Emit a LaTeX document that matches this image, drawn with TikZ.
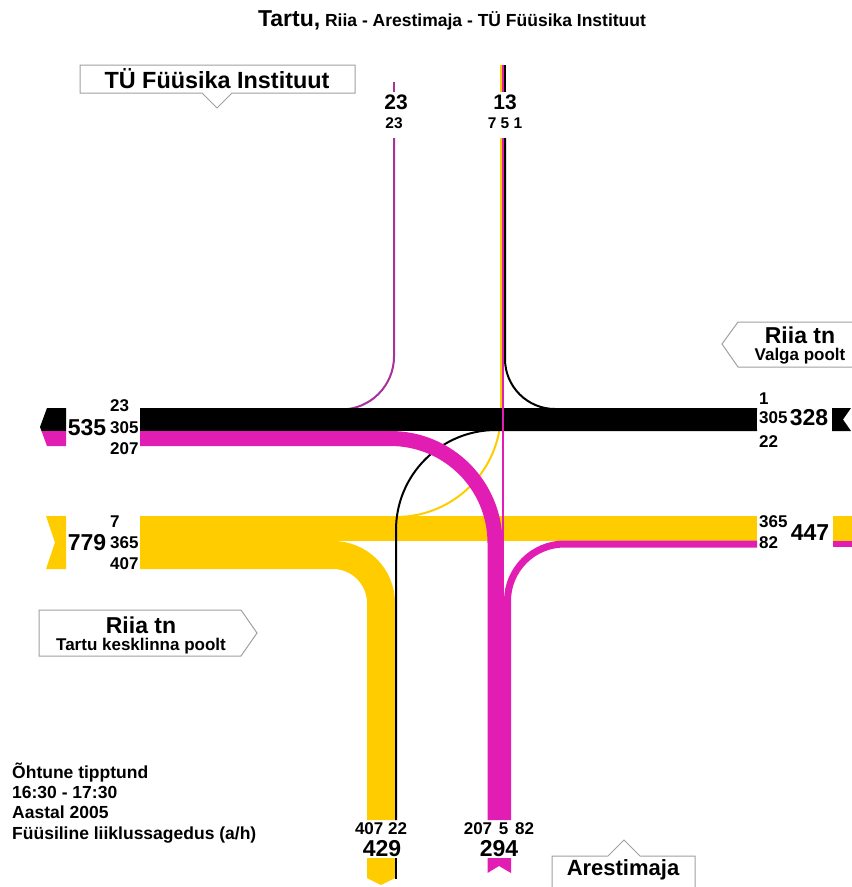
\documentclass[tikz,border=0pt]{standalone}
\usepackage{fontspec}
\setmainfont{Liberation Sans}
\definecolor{flowyellow}{HTML}{FFCC00}
\definecolor{flowmagenta}{HTML}{E21DB3}
\definecolor{flowpurple}{HTML}{A5339A}
\definecolor{boxgray}{HTML}{A0A0A0}
\tikzset{
  numsmall/.style={font=\bfseries\fontsize{17}{19}\selectfont,inner sep=0pt},
  numbig/.style={font=\bfseries\fontsize{23}{25}\selectfont,inner sep=0pt},
  numtop/.style={font=\bfseries\fontsize{21}{23}\selectfont,inner sep=0pt},
  numtopsmall/.style={font=\bfseries\fontsize{15.5}{17}\selectfont,inner sep=0pt},
  infotext/.style={font=\bfseries\fontsize{17.5}{20}\selectfont,inner sep=0pt,anchor=base west},
  callout/.style={draw=boxgray,fill=white,line width=1pt},
  stream/.style={line width=#1,line cap=butt}
}
\begin{document}
\begin{tikzpicture}[x=1pt,y=-1pt]
  \useasboundingbox (0,0) rectangle (852,887);

  \coordinate (nPurpleTop) at (394,82);
  \coordinate (nPurpleLbl) at (394,92);
  \coordinate (nPurple) at (394,138);
  \coordinate (wPurple) at (140,409.5);
  \coordinate (nYellowTop) at (501,65);
  \coordinate (nYellowLbl) at (501,92);
  \coordinate (nYellow) at (501,138);
  \coordinate (wYellowT) at (140,517);
  \coordinate (nMagentaTop) at (503,65);
  \coordinate (nMagentaLbl) at (503,92);
  \coordinate (nMagenta) at (503,138);
  \coordinate (sMagentaS) at (503,820);
  \coordinate (nBlackTop) at (505,65);
  \coordinate (nBlackLbl) at (505,92);
  \coordinate (nBlack) at (505,138);
  \coordinate (eBlackL) at (757,409);
  \coordinate (eBlackR) at (757,430);
  \coordinate (sBlack) at (396,820);
  \coordinate (wBlack) at (140,419.5);
  \coordinate (eBlack) at (757,419.5);
  \coordinate (wYellow) at (140,528.5);
  \coordinate (eYellow) at (757,528.5);
  \coordinate (wYellowR) at (140,555);
  \coordinate (sYellow) at (381,820);
  \coordinate (wMagenta) at (140,438.5);
  \coordinate (sMagenta) at (495,820);
  \coordinate (eMagenta) at (757,544);
  \coordinate (sMagentaR) at (507.5,820);

  \draw[flowyellow,stream=2,rounded corners=105] (wYellowT) -| (nYellow);
  \draw[flowyellow,stream=2] (nYellowTop) -- (nYellowLbl);
  \draw[flowpurple,stream=2,rounded corners=53] (nPurple) |- (wPurple);
  \draw[flowpurple,stream=2] (nPurpleTop) -- (nPurpleLbl);
  \draw[stream=23] (wBlack) -- (eBlack);
  \draw[flowyellow,stream=25] (wYellow) -- (eYellow);
  \draw[flowyellow,stream=28,rounded corners=48] (wYellowR) -| (sYellow);
  \draw[stream=2,rounded corners=50] (eBlackL) -| (nBlack);
  \draw[stream=2] (nBlackTop) -- (nBlackLbl);
  \draw[stream=2,rounded corners=100] (eBlackR) -| (sBlack);
  \draw[flowmagenta,stream=15,rounded corners=104.5] (wMagenta) -| (sMagenta);
  \draw[flowmagenta,stream=7,rounded corners=57] (eMagenta) -| (sMagentaR);
  \draw[flowmagenta,stream=2.5] (sMagentaS) -- (nMagenta);
  \draw[flowmagenta,stream=2] (nMagentaTop) -- (nMagentaLbl);

  \fill (66,408) -- (47,408) -- (40,427) -- (41.5,431) -- (66,431) -- cycle;
  \fill[flowmagenta] (66,431) -- (41.5,431) -- (47,446) -- (66,446) -- cycle;
  \fill[flowyellow] (46,516) -- (66,516) -- (66,569) -- (46,569) -- (55,542.5) -- cycle;
  \fill (832,408) -- (851,408) -- (843,419.5) -- (851,431) -- (832,431) -- cycle;
  \fill[flowyellow] (833,516) rectangle (852,541);
  \fill[flowmagenta] (833,541) rectangle (852,547);
  \fill[flowyellow] (367,858) -- (395,858) -- (395,878) -- (381,885) -- (367,878) -- cycle;
  \draw[stream=2] (396,858) -- (396,879);
  \fill[flowmagenta] (487.5,858) -- (511,858) -- (511,873) -- (499,866) -- (487.5,873) -- cycle;

  \node[font=\bfseries] (title) at (452,20)
    {\fontsize{23}{25}\selectfont Tartu,\fontsize{17.5}{20}\selectfont\ Riia - Arestimaja - TÜ Füüsika Instituut};

  \draw[callout] (80,65) -- (355,65) -- (355,93) -- (232,93) -- (217,108) -- (202,93) -- (80,93) -- cycle;
  \node[font=\bfseries\fontsize{23.4}{25}\selectfont] (fyysika) at (217,79) {TÜ Füüsika Instituut};
  \draw[callout] (854,322) -- (738,322) -- (722,344) -- (738,367) -- (854,367);
  \node[font=\bfseries\fontsize{23}{25}\selectfont] (riiaE) at (800,335) {Riia tn};
  \node[font=\bfseries\fontsize{17}{19}\selectfont] (valga) at (800,356) {Valga poolt};
  \draw[callout] (39,610) -- (241,610) -- (257,633) -- (241,656) -- (39,656) -- cycle;
  \node[font=\bfseries\fontsize{23}{25}\selectfont] (riiaW) at (141,625) {Riia tn};
  \node[font=\bfseries\fontsize{17}{19}\selectfont] (kesklinn) at (141,646) {Tartu kesklinna poolt};
  \draw[callout] (552,890) -- (552,856) -- (608,856) -- (624,840) -- (640,856) -- (695,856) -- (695,890);
  \node[font=\bfseries\fontsize{22}{24}\selectfont] (arest) at (623,870) {Arestimaja};

  \node[numtop] (n23) at (396,102) {23};
  \node[numtopsmall] (n23s) at (394,123) {23};
  \node[numtop] (n13) at (505,102) {13};
  \node[numtopsmall] (n13s) at (505,123) {7 5 1};

  \node[numsmall,anchor=west] (l23) at (110,406) {23};
  \node[numsmall,anchor=west] (l305) at (110,428) {305};
  \node[numsmall,anchor=west] (l207) at (110,449) {207};
  \node[numbig] (l535) at (87,428) {535};
  \node[numsmall,anchor=west] (l7) at (110,522) {7};
  \node[numsmall,anchor=west] (l365) at (110,543) {365};
  \node[numsmall,anchor=west] (l407) at (110,564) {407};
  \node[numbig] (l779) at (87,543) {779};

  \node[numsmall,anchor=west] (r1) at (759,399) {1};
  \node[numsmall,anchor=west] (r305) at (759,418) {305};
  \node[numsmall,anchor=west] (r22) at (759,442) {22};
  \node[numbig] (r328) at (809,418) {328};
  \node[numsmall,anchor=west] (r365) at (759,522) {365};
  \node[numsmall,anchor=west] (r82) at (759,543) {82};
  \node[numbig] (r447) at (810,533) {447};

  \node[numsmall] (s407) at (381,829) {407 22};
  \node[numbig] (s429) at (382,849) {429};
  \node[numsmall] (s207) at (499,829) {207\hspace{.4em}5\hspace{.4em}82};
  \node[numbig] (s294) at (499,849) {294};

  \node[infotext] (info1) at (12,778) {Õhtune tipptund};
  \node[infotext] (info2) at (12,798) {16:30 - 17:30};
  \node[infotext] (info3) at (12,818) {Aastal 2005};
  \node[infotext] (info4) at (12,839) {Füüsiline liiklussagedus (a/h)};
\end{tikzpicture}
\end{document}
